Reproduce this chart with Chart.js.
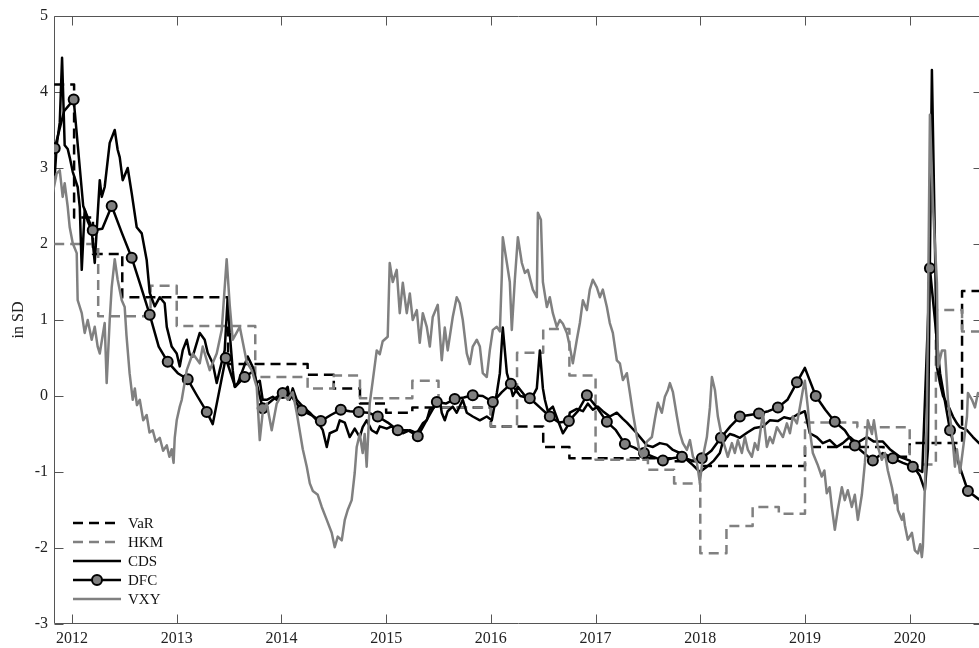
<!DOCTYPE html>
<html><head><meta charset="utf-8">
<script src="https://cdn.jsdelivr.net/npm/chart.js@4.4.1/dist/chart.umd.min.js"></script>
<style>
html,body{margin:0;padding:0;background:#fff;overflow:hidden}
#wrap{width:979px;height:648px;overflow:hidden;position:relative;background:#fff}
canvas{display:block}
</style></head>
<body><div id="wrap"><canvas id="c" width="990" height="648"></canvas></div>
<script>
// ---- data (x in fractional years, y in SD) ----
const xTicks = [2012, 2013, 2014, 2015, 2016, 2017, 2018, 2019, 2020];
const yTicks = [-3, -2, -1, 0, 1, 2, 3, 4, 5];
const seriesNames = ['VaR', 'HKM', 'CDS', 'DFC', 'VXY'];

// step series: each value holds from its start year until the next one
const varSteps = [[2011.83,4.1],[2012.02,2.35],[2012.2,1.87],[2012.48,1.3],[2013.49,0.42],[2014.25,0.28],[2014.5,0.1],[2014.75,-0.1],[2015.0,-0.22],[2015.25,-0.15],[2016.0,-0.4],[2016.5,-0.67],[2016.75,-0.82],[2017.75,-0.86],[2018.0,-0.92],[2019.0,-0.67],[2019.75,-0.8],[2020.0,-0.62],[2020.5,1.38],[2020.75,1.38]];
const hkmSteps = [[2011.83,2.0],[2012.25,1.05],[2012.75,1.45],[2013.0,0.92],[2013.75,0.25],[2014.25,0.1],[2014.5,0.27],[2014.75,-0.03],[2015.25,0.2],[2015.5,-0.15],[2016.0,-0.4],[2016.25,0.57],[2016.5,0.88],[2016.75,0.27],[2017.0,-0.84],[2017.5,-0.97],[2017.75,-1.15],[2018.0,-2.07],[2018.25,-1.71],[2018.5,-1.46],[2018.75,-1.55],[2019.0,-0.35],[2019.5,-0.41],[2020.0,-0.9],[2020.25,1.13],[2020.5,0.85],[2020.75,0.85]];

const cds = [[2011.835,2.9],[2011.854,3.3],[2011.883,3.6],[2011.905,4.45],[2011.93,3.3],[2011.959,3.25],[2011.978,3.14],[2012.007,2.95],[2012.054,2.75],[2012.074,2.49],[2012.093,1.66],[2012.121,2.45],[2012.15,2.3],[2012.188,2.18],[2012.217,1.75],[2012.265,2.84],[2012.284,2.62],[2012.312,2.75],[2012.36,3.33],[2012.408,3.5],[2012.436,3.24],[2012.456,3.14],[2012.484,2.84],[2012.532,3.0],[2012.57,2.67],[2012.618,2.22],[2012.666,2.14],[2012.713,1.79],[2012.742,1.36],[2012.79,1.18],[2012.838,1.3],[2012.885,1.22],[2012.905,0.91],[2012.952,0.65],[2013.0,0.56],[2013.029,0.39],[2013.057,0.6],[2013.096,0.74],[2013.124,0.55],[2013.153,0.52],[2013.22,0.83],[2013.267,0.74],[2013.296,0.57],[2013.344,0.43],[2013.382,0.17],[2013.411,0.34],[2013.458,0.6],[2013.487,1.3],[2013.506,0.83],[2013.535,0.34],[2013.554,0.12],[2013.583,0.17],[2013.63,0.34],[2013.678,0.52],[2013.726,0.38],[2013.764,0.17],[2013.793,0.2],[2013.821,-0.05],[2013.86,-0.05],[2013.917,-0.01],[2013.955,-0.05],[2014.012,0.04],[2014.06,0.12],[2014.079,-0.05],[2014.108,0.1],[2014.146,-0.05],[2014.204,-0.14],[2014.271,-0.22],[2014.338,-0.32],[2014.395,-0.45],[2014.433,-0.67],[2014.461,-0.49],[2014.528,-0.45],[2014.557,-0.32],[2014.605,-0.35],[2014.652,-0.54],[2014.7,-0.43],[2014.748,-0.54],[2014.776,-0.41],[2014.814,-0.32],[2014.862,-0.45],[2014.91,-0.49],[2014.939,-0.4],[2015.006,-0.43],[2015.053,-0.4],[2015.101,-0.45],[2015.159,-0.49],[2015.226,-0.45],[2015.293,-0.49],[2015.35,-0.36],[2015.388,-0.32],[2015.417,-0.18],[2015.465,-0.14],[2015.512,-0.05],[2015.531,-0.22],[2015.56,-0.32],[2015.588,-0.2],[2015.636,-0.14],[2015.674,-0.22],[2015.732,-0.05],[2015.77,-0.22],[2015.827,-0.27],[2015.895,-0.32],[2015.961,-0.27],[2016.009,-0.32],[2016.057,0.04],[2016.086,0.3],[2016.114,0.9],[2016.153,0.3],[2016.181,0.17],[2016.21,0.0],[2016.258,0.12],[2016.305,0.04],[2016.353,-0.05],[2016.401,0.0],[2016.439,0.1],[2016.468,0.6],[2016.497,0.1],[2016.516,-0.05],[2016.544,-0.2],[2016.592,-0.14],[2016.64,-0.32],[2016.688,-0.49],[2016.726,-0.41],[2016.754,-0.22],[2016.821,-0.17],[2016.879,-0.2],[2016.926,-0.1],[2016.974,-0.18],[2017.022,-0.14],[2017.069,-0.2],[2017.136,-0.27],[2017.203,-0.22],[2017.261,-0.3],[2017.3,-0.35],[2017.4,-0.5],[2017.49,-0.65],[2017.548,-0.67],[2017.614,-0.62],[2017.681,-0.64],[2017.739,-0.71],[2017.805,-0.75],[2017.872,-0.84],[2017.93,-0.91],[2017.996,-1.0],[2018.063,-0.93],[2018.13,-0.85],[2018.187,-0.75],[2018.216,-0.6],[2018.282,-0.5],[2018.33,-0.52],[2018.378,-0.55],[2018.45,-0.48],[2018.52,-0.42],[2018.6,-0.4],[2018.664,-0.32],[2018.74,-0.33],[2018.8,-0.28],[2018.86,-0.3],[2018.92,-0.25],[2018.999,-0.2],[2019.046,-0.49],[2019.113,-0.54],[2019.17,-0.62],[2019.237,-0.58],[2019.304,-0.67],[2019.361,-0.62],[2019.428,-0.54],[2019.495,-0.62],[2019.591,-0.54],[2019.658,-0.6],[2019.744,-0.6],[2019.81,-0.7],[2019.906,-0.8],[2020.001,-0.85],[2020.097,-1.05],[2020.145,-1.24],[2020.174,-0.7],[2020.212,4.29],[2020.241,2.0],[2020.26,0.38],[2020.289,0.17],[2020.318,0.0],[2020.356,-0.1],[2020.385,-0.18],[2020.413,-0.27],[2020.451,-0.36],[2020.48,-0.41],[2020.547,-0.45],[2020.604,-0.54],[2020.662,-0.62],[2020.7,-0.65]];

// DFC: even entries carry a marker, odd entries are the path between markers
const dfc = [[2011.835,3.26],[2011.925,3.75],[2012.016,3.9],[2012.107,2.5],[2012.198,2.18],[2012.289,2.2],[2012.379,2.5],[2012.475,2.15],[2012.570,1.82],[2012.656,1.45],[2012.742,1.07],[2012.828,0.65],[2012.914,0.45],[2013.010,0.3],[2013.105,0.22],[2013.196,0.0],[2013.287,-0.21],[2013.344,-0.37],[2013.468,0.5],[2013.558,0.12],[2013.649,0.25],[2013.735,0.33],[2013.821,-0.16],[2013.917,-0.05],[2014.012,0.04],[2014.103,-0.02],[2014.194,-0.19],[2014.285,-0.25],[2014.376,-0.33],[2014.472,-0.25],[2014.567,-0.18],[2014.652,-0.2],[2014.738,-0.21],[2014.829,-0.22],[2014.920,-0.27],[2015.016,-0.35],[2015.111,-0.45],[2015.207,-0.45],[2015.302,-0.53],[2015.393,-0.3],[2015.484,-0.08],[2015.570,-0.1],[2015.655,-0.04],[2015.741,-0.02],[2015.827,0.01],[2015.923,0.0],[2016.019,-0.08],[2016.105,0.05],[2016.191,0.16],[2016.282,0.0],[2016.372,-0.03],[2016.468,-0.15],[2016.563,-0.27],[2016.654,-0.35],[2016.745,-0.33],[2016.831,-0.2],[2016.917,0.01],[2017.012,-0.15],[2017.108,-0.34],[2017.194,-0.45],[2017.280,-0.63],[2017.371,-0.68],[2017.462,-0.75],[2017.552,-0.8],[2017.643,-0.85],[2017.734,-0.82],[2017.825,-0.8],[2017.920,-0.85],[2018.015,-0.82],[2018.106,-0.72],[2018.197,-0.55],[2018.287,-0.4],[2018.378,-0.27],[2018.469,-0.25],[2018.560,-0.23],[2018.650,-0.2],[2018.741,-0.15],[2018.832,-0.05],[2018.923,0.18],[2018.999,0.37],[2019.103,0.0],[2019.194,-0.18],[2019.285,-0.34],[2019.380,-0.45],[2019.476,-0.65],[2019.562,-0.75],[2019.648,-0.85],[2019.744,-0.75],[2019.839,-0.82],[2019.935,-0.88],[2020.030,-0.93],[2020.120,-1.0],[2020.193,1.68],[2020.290,0.3],[2020.385,-0.45],[2020.470,-0.9],[2020.556,-1.25],[2020.700,-1.4]];

const vxy = [[2011.816,2.67],[2011.854,2.93],[2011.883,2.97],[2011.911,2.62],[2011.93,2.8],[2011.959,2.49],[2011.978,2.22],[2012.007,2.01],[2012.045,1.88],[2012.054,1.26],[2012.093,1.09],[2012.121,0.83],[2012.15,1.0],[2012.188,0.74],[2012.217,0.91],[2012.245,0.65],[2012.265,0.56],[2012.312,0.96],[2012.331,0.17],[2012.36,1.0],[2012.379,1.43],[2012.408,1.8],[2012.436,1.53],[2012.475,1.26],[2012.503,1.17],[2012.52,0.8],[2012.55,0.3],[2012.58,-0.05],[2012.6,0.1],[2012.62,-0.12],[2012.647,-0.05],[2012.68,-0.32],[2012.713,-0.25],[2012.74,-0.48],[2012.771,-0.45],[2012.8,-0.6],[2012.838,-0.55],[2012.87,-0.72],[2012.905,-0.65],[2012.93,-0.8],[2012.952,-0.7],[2012.97,-0.88],[2012.981,-0.55],[2013.0,-0.32],[2013.029,-0.14],[2013.048,-0.05],[2013.096,0.34],[2013.153,0.56],[2013.22,0.43],[2013.248,0.65],[2013.315,0.34],[2013.382,0.56],[2013.43,0.87],[2013.477,1.8],[2013.506,1.2],[2013.535,0.74],[2013.602,0.91],[2013.668,0.45],[2013.716,0.34],[2013.764,0.12],[2013.793,-0.58],[2013.821,-0.22],[2013.86,-0.1],[2013.907,-0.45],[2013.955,-0.1],[2014.012,0.04],[2014.06,-0.05],[2014.108,0.05],[2014.146,-0.22],[2014.204,-0.7],[2014.242,-0.93],[2014.271,-1.15],[2014.3,-1.25],[2014.347,-1.3],[2014.385,-1.46],[2014.433,-1.63],[2014.48,-1.8],[2014.509,-1.99],[2014.538,-1.85],[2014.576,-1.9],[2014.605,-1.63],[2014.633,-1.5],[2014.671,-1.37],[2014.7,-1.01],[2014.719,-0.67],[2014.748,-0.5],[2014.776,-0.75],[2014.795,-0.5],[2014.814,-0.93],[2014.843,-0.1],[2014.872,0.2],[2014.91,0.6],[2014.939,0.55],[2014.967,0.72],[2015.015,0.78],[2015.034,1.75],[2015.063,1.5],[2015.101,1.66],[2015.13,1.09],[2015.159,1.49],[2015.197,1.09],[2015.226,1.35],[2015.254,1.0],[2015.293,1.13],[2015.321,0.7],[2015.35,1.09],[2015.388,0.91],[2015.417,0.65],[2015.445,1.04],[2015.493,1.2],[2015.531,0.47],[2015.56,0.9],[2015.588,0.6],[2015.636,1.04],[2015.674,1.3],[2015.703,1.22],[2015.732,1.0],[2015.77,0.56],[2015.799,0.42],[2015.827,0.65],[2015.866,0.74],[2015.895,0.65],[2015.923,0.3],[2015.961,0.25],[2015.99,0.6],[2016.019,0.87],[2016.057,0.91],[2016.086,0.85],[2016.105,1.6],[2016.114,2.09],[2016.153,1.75],[2016.181,1.5],[2016.2,0.87],[2016.229,1.53],[2016.258,2.09],[2016.296,1.75],[2016.325,1.62],[2016.353,1.66],[2016.401,1.4],[2016.439,1.3],[2016.449,2.41],[2016.478,2.32],[2016.497,1.5],[2016.535,1.17],[2016.563,1.3],[2016.592,1.09],[2016.63,0.91],[2016.659,1.0],[2016.688,0.95],[2016.726,0.83],[2016.754,0.65],[2016.783,0.43],[2016.821,0.74],[2016.85,0.96],[2016.879,1.26],[2016.917,1.13],[2016.945,1.4],[2016.974,1.53],[2017.012,1.43],[2017.041,1.3],[2017.069,1.4],[2017.108,1.17],[2017.136,0.96],[2017.165,0.83],[2017.203,0.47],[2017.232,0.43],[2017.261,0.21],[2017.299,0.3],[2017.328,0.04],[2017.356,-0.22],[2017.395,-0.54],[2017.423,-0.75],[2017.443,-0.8],[2017.49,-0.6],[2017.538,-0.54],[2017.567,-0.3],[2017.595,-0.09],[2017.633,-0.22],[2017.662,-0.01],[2017.691,0.08],[2017.71,0.17],[2017.739,0.05],[2017.777,-0.27],[2017.805,-0.49],[2017.834,-0.62],[2017.872,-0.71],[2017.901,-0.58],[2017.93,-0.8],[2017.968,-0.88],[2017.996,-1.14],[2018.025,-0.8],[2018.063,-0.54],[2018.092,-0.15],[2018.111,0.25],[2018.14,0.08],[2018.168,-0.27],[2018.206,-0.54],[2018.235,-0.67],[2018.263,-0.8],[2018.302,-0.62],[2018.33,-0.75],[2018.359,-0.58],[2018.397,-0.75],[2018.426,-0.54],[2018.455,-0.71],[2018.493,-0.8],[2018.521,-0.62],[2018.55,-0.71],[2018.598,-0.22],[2018.636,-0.67],[2018.664,-0.54],[2018.693,-0.62],[2018.732,-0.41],[2018.789,-0.54],[2018.827,-0.36],[2018.856,-0.49],[2018.884,-0.27],[2018.923,-0.36],[2018.951,-0.15],[2018.98,0.08],[2018.999,0.2],[2019.027,-0.15],[2019.046,-0.45],[2019.075,-0.75],[2019.12,-0.9],[2019.16,-1.06],[2019.185,-0.98],[2019.208,-1.28],[2019.235,-1.2],[2019.256,-1.46],[2019.285,-1.76],[2019.313,-1.5],[2019.352,-1.2],[2019.38,-1.37],[2019.409,-1.24],[2019.447,-1.46],[2019.476,-1.3],[2019.505,-1.63],[2019.543,-1.3],[2019.572,-0.88],[2019.6,-0.32],[2019.639,-0.5],[2019.658,-0.32],[2019.696,-0.67],[2019.734,-0.84],[2019.763,-0.75],[2019.791,-0.98],[2019.83,-1.2],[2019.858,-1.41],[2019.875,-1.3],[2019.887,-1.5],[2019.925,-1.63],[2019.94,-1.55],[2019.954,-1.7],[2019.982,-1.89],[2020.021,-1.8],[2020.049,-2.03],[2020.078,-2.07],[2020.1,-1.95],[2020.116,-2.12],[2020.126,-1.98],[2020.145,-1.2],[2020.164,-0.3],[2020.174,1.0],[2020.193,3.7],[2020.222,2.5],[2020.26,1.49],[2020.27,0.38],[2020.308,0.6],[2020.337,0.6],[2020.365,-0.05],[2020.404,-0.49],[2020.432,-0.93],[2020.451,-0.7],[2020.48,-1.01],[2020.509,-0.7],[2020.547,-0.27],[2020.556,0.04],[2020.595,-0.05],[2020.623,-0.15],[2020.652,0.04],[2020.7,0.0]];

// ---- chart ----
const FONT = "'Liberation Serif', 'DejaVu Serif', serif";
const GRAY = '#808080';
const toPts = a => a.map(p => ({x: p[0], y: p[1]}));

const boxPlugin = {
  id: 'boxTicks',
  beforeDatasetsDraw(chart) {
    const {ctx, chartArea: a, scales: {x, y}} = chart;
    const L = 9;
    ctx.save();
    ctx.strokeStyle = '#555';
    ctx.lineWidth = 1;
    ctx.beginPath();
    const l = Math.round(a.left) + 0.5, r = Math.round(a.right) - 0.5;
    const t = Math.round(a.top) + 0.5, b = Math.round(a.bottom) - 0.5;
    ctx.rect(l, t, r - l, b - t);
    xTicks.forEach(v => {
      const px = Math.round(x.getPixelForValue(v)) + 0.5;
      ctx.moveTo(px, b); ctx.lineTo(px, b - L);
      ctx.moveTo(px, t); ctx.lineTo(px, t + L);
    });
    yTicks.forEach(v => {
      const py = Math.round(y.getPixelForValue(v)) + 0.5;
      ctx.moveTo(l, py); ctx.lineTo(l + L, py);
      ctx.moveTo(r, py); ctx.lineTo(r - L, py);
    });
    ctx.stroke();
    ctx.restore();
  }
};

const legendPlugin = {
  id: 'matlabLegend',
  afterDraw(chart) {
    const {ctx, chartArea: a} = chart;
    const x0 = a.left + 19, x1 = a.left + 67, tx = a.left + 74;
    let yy = a.bottom - 101;
    ctx.save();
    seriesNames.forEach(name => {
      const ds = chart.data.datasets.find(d => d.label === name);
      ctx.strokeStyle = ds.borderColor;
      ctx.lineWidth = ds.borderWidth;
      ctx.setLineDash(ds.borderDash || []);
      ctx.beginPath(); ctx.moveTo(x0, yy); ctx.lineTo(x1, yy); ctx.stroke();
      ctx.setLineDash([]);
      if (name === 'DFC') {
        ctx.beginPath();
        ctx.arc((x0 + x1) / 2, yy, 5, 0, Math.PI * 2);
        ctx.fillStyle = GRAY; ctx.fill();
        ctx.lineWidth = 2; ctx.strokeStyle = '#000'; ctx.stroke();
      }
      ctx.fillStyle = '#111';
      ctx.font = '15px ' + FONT;
      ctx.textBaseline = 'middle';
      ctx.textAlign = 'left';
      ctx.fillText(name, tx, yy + 1);
      yy += 19;
    });
    ctx.restore();
  }
};

Chart.defaults.font.family = FONT;
Chart.defaults.color = '#222';

new Chart(document.getElementById('c'), {
  type: 'line',
  data: {
    datasets: [
      {label: 'VaR', data: toPts(varSteps), stepped: true, borderColor: '#000', borderWidth: 2.5, borderDash: [10, 6], pointRadius: 0, order: 5},
      {label: 'HKM', data: toPts(hkmSteps), stepped: true, borderColor: GRAY, borderWidth: 2.5, borderDash: [10, 6], pointRadius: 0, order: 4},
      {label: 'CDS', data: toPts(cds), borderColor: '#000', borderWidth: 2.5, pointRadius: 0, order: 3},
      {label: 'DFC', data: toPts(dfc), borderColor: '#000', borderWidth: 2.5,
        pointRadius: c => c.dataIndex % 2 === 0 ? 5 : 0,
        pointBackgroundColor: GRAY, pointBorderColor: '#000', pointBorderWidth: 2, order: 2},
      {label: 'VXY', data: toPts(vxy), borderColor: GRAY, borderWidth: 2.5, pointRadius: 0, order: 1}
    ]
  },
  options: {
    responsive: false,
    animation: false,
    parsing: true,
    layout: {padding: {left: 0, right: 7, top: 16, bottom: 0}, autoPadding: false},
    elements: {line: {tension: 0, borderJoinStyle: 'round'}, point: {hoverRadius: 0}},
    plugins: {legend: {display: false}, tooltip: {enabled: false}},
    events: [],
    scales: {
      x: {
        type: 'linear', min: 2011.828, max: 2020.7,
        grid: {display: false, drawTicks: false}, border: {display: false},
        afterBuildTicks: s => { s.ticks = xTicks.map(v => ({value: v})); },
        afterFit: s => { s.height = 24; },
        ticks: {font: {size: 16}, color: '#222', padding: 5, maxRotation: 0, autoSkip: false, callback: v => String(v)}
      },
      y: {
        type: 'linear', min: -3, max: 5,
        grid: {display: false, drawTicks: false}, border: {display: false},
        afterBuildTicks: s => { s.ticks = yTicks.map(v => ({value: v})); },
        afterFit: s => { s.width = 54; },
        ticks: {font: {size: 16}, color: '#222', padding: 6, callback: v => String(v)},
        title: {display: true, text: 'in SD', font: {size: 16}, color: '#222', padding: {top: 9, bottom: 0}}
      }
    }
  },
  plugins: [boxPlugin, legendPlugin]
});
</script>
</body></html>
